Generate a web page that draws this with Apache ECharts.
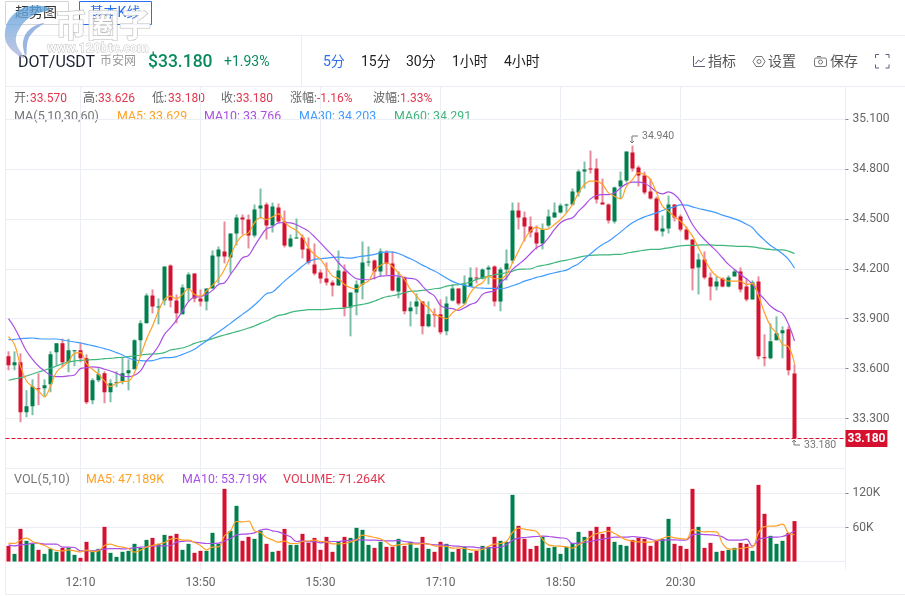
<!DOCTYPE html>
<html>
<head>
<meta charset="utf-8">
<style>
  html, body { margin: 0; padding: 0; background: #fff; }
  #chart { width: 905px; height: 596px; }
</style>
<script src="https://cdn.jsdelivr.net/npm/echarts@6/dist/echarts.min.js"></script>
</head>
<body>
<div id="chart"></div>
<script>
// 5分钟K线 DOT/USDT, values
const opens = [33.674,33.620,33.638,33.338,33.374,33.482,33.482,33.506,33.698,33.752,33.638,33.704,33.710,33.662,33.410,33.530,33.572,33.458,33.512,33.524,33.572,33.596,33.770,33.872,34.040,33.968,34.010,34.220,34.010,33.926,34.082,34.172,34.022,34.004,34.082,34.274,34.304,34.268,34.412,34.508,34.496,34.400,34.562,34.586,
  34.460,34.568,34.484,34.334,34.382,34.388,34.322,34.226,34.178,34.142,34.118,34.100,34.184,33.968,34.058,34.106,34.238,34.250,34.184,34.298,34.232,34.064,34.148,33.944,33.974,34.004,33.854,33.926,33.926,33.824,34.010,34.082,33.992,34.094,34.148,34.142,34.196,34.214,34.004,34.196,34.250,34.550,34.508,34.454,34.418,
  34.352,34.460,34.508,34.538,34.580,34.586,34.658,34.784,34.802,34.802,34.598,34.586,34.484,34.694,34.730,34.898,34.808,34.760,34.664,34.622,34.424,34.442,34.586,34.514,34.436,34.376,34.208,34.256,34.148,34.094,34.142,34.094,34.154,34.184,34.094,34.016,34.124,33.668,33.662,33.770,33.812,33.836,33.570];
const closes = [33.620,33.638,33.338,33.374,33.492,33.476,33.500,33.686,33.752,33.638,33.710,33.710,33.662,33.398,33.530,33.566,33.458,33.512,33.518,33.572,33.590,33.770,33.872,34.040,33.974,33.974,34.214,34.010,33.932,34.088,34.166,34.022,34.004,34.082,34.280,34.316,34.274,34.412,34.508,34.496,34.400,34.556,34.580,34.460,
  34.574,34.484,34.340,34.382,34.388,34.316,34.238,34.172,34.142,34.118,34.100,34.190,33.968,34.058,34.106,34.238,34.244,34.184,34.304,34.232,34.070,34.148,33.944,33.968,34.004,33.854,33.926,33.920,33.818,33.992,34.082,33.992,34.106,34.148,34.142,34.196,34.208,34.004,34.196,34.232,34.550,34.508,34.454,34.418,34.352,
  34.436,34.514,34.538,34.580,34.586,34.664,34.784,34.796,34.796,34.616,34.586,34.490,34.688,34.730,34.904,34.802,34.760,34.658,34.622,34.430,34.442,34.586,34.508,34.436,34.376,34.202,34.256,34.148,34.094,34.124,34.094,34.148,34.184,34.076,34.016,34.118,33.674,33.662,33.764,33.812,33.830,33.590,33.180];
const lows = [33.590,33.590,33.278,33.308,33.320,33.380,33.428,33.458,33.616,33.608,33.578,33.614,33.638,33.386,33.386,33.518,33.392,33.398,33.488,33.506,33.470,33.596,33.686,33.872,33.932,33.866,33.980,33.968,33.872,33.926,34.004,33.998,33.974,33.950,34.082,34.112,34.232,34.172,34.340,34.406,34.322,34.388,34.502,34.376,
  34.418,34.472,34.328,34.328,34.382,34.262,34.226,34.160,34.112,34.100,34.034,34.100,33.914,33.794,33.920,34.016,34.214,34.136,34.154,34.160,34.064,34.022,33.926,33.854,33.926,33.806,33.848,33.848,33.806,33.800,34.004,33.980,33.986,34.094,34.112,34.136,34.106,33.974,33.944,34.130,34.232,34.436,34.364,34.388,34.316,
  34.316,34.448,34.508,34.532,34.538,34.580,34.634,34.682,34.772,34.592,34.586,34.472,34.472,34.622,34.718,34.784,34.694,34.646,34.616,34.424,34.394,34.412,34.484,34.424,34.370,34.070,34.046,34.136,34.010,34.070,34.088,34.088,34.154,34.058,34.004,34.016,33.656,33.614,33.656,33.770,33.662,33.560,33.180];
const highs = [33.704,33.704,33.692,33.470,33.536,33.572,33.536,33.704,33.752,33.780,33.780,33.710,33.758,33.686,33.542,33.602,33.584,33.536,33.584,33.668,33.656,33.776,33.890,34.052,34.076,34.022,34.214,34.226,34.046,34.106,34.178,34.172,34.076,34.082,34.310,34.334,34.484,34.412,34.526,34.526,34.526,34.586,34.682,34.598,
  34.598,34.592,34.550,34.406,34.502,34.406,34.388,34.352,34.196,34.238,34.130,34.310,34.226,34.058,34.130,34.364,34.334,34.256,34.322,34.310,34.304,34.184,34.154,34.004,34.052,34.004,34.004,33.962,34.016,34.034,34.106,34.082,34.160,34.208,34.208,34.202,34.220,34.220,34.208,34.316,34.598,34.598,34.544,34.514,34.460,
  34.472,34.556,34.598,34.592,34.592,34.682,34.796,34.844,34.910,34.862,34.742,34.592,34.694,34.784,34.904,34.940,34.820,34.784,34.742,34.634,34.520,34.640,34.586,34.526,34.454,34.376,34.292,34.304,34.178,34.154,34.148,34.160,34.196,34.208,34.142,34.130,34.154,33.806,33.872,33.914,33.854,33.854,33.626];

const ma5 = [33.792,33.746,33.616,33.526,33.492,33.466,33.432,33.496,33.580,33.612,33.642,33.692,33.696,33.630,33.596,33.566,33.526,33.492,33.512,33.522,33.526,33.576,33.676,33.776,33.856,33.946,34.016,34.036,34.020,34.046,34.080,34.046,34.036,34.066,34.100,34.140,34.196,34.276,34.356,34.400,34.416,34.476,34.508,34.496,
  34.512,34.530,34.480,34.450,34.430,34.392,34.326,34.286,34.256,34.206,34.156,34.142,34.106,34.086,34.080,34.110,34.126,34.192,34.220,34.236,34.212,34.176,34.136,34.076,34.036,33.996,33.966,33.926,33.912,33.900,33.936,33.960,33.986,34.056,34.096,34.116,34.156,34.140,34.140,34.166,34.236,34.306,34.376,34.426,34.450,
  34.436,34.440,34.466,34.496,34.536,34.586,34.656,34.706,34.726,34.726,34.706,34.656,34.636,34.620,34.696,34.736,34.776,34.766,34.736,34.656,34.576,34.546,34.512,34.486,34.446,34.396,34.326,34.256,34.196,34.156,34.140,34.126,34.126,34.126,34.106,34.112,34.036,33.936,33.856,33.812,33.746,33.732,33.629];
const ma10 = [33.900,33.846,33.776,33.706,33.656,33.616,33.586,33.560,33.552,33.552,33.556,33.562,33.600,33.606,33.610,33.608,33.596,33.586,33.572,33.556,33.552,33.560,33.586,33.646,33.686,33.736,33.806,33.846,33.892,33.946,34.002,34.030,34.032,34.046,34.070,34.106,34.116,34.166,34.216,34.266,34.280,34.336,34.392,34.440,
  34.452,34.476,34.478,34.476,34.464,34.446,34.426,34.392,34.356,34.316,34.280,34.236,34.200,34.166,34.140,34.136,34.134,34.144,34.156,34.158,34.160,34.156,34.146,34.142,34.134,34.096,34.060,34.036,33.980,33.964,33.960,33.950,33.966,33.986,34.000,34.046,34.060,34.066,34.116,34.146,34.196,34.226,34.256,34.292,34.326,
  34.346,34.386,34.436,34.476,34.496,34.506,34.546,34.580,34.620,34.640,34.646,34.646,34.656,34.686,34.710,34.720,34.720,34.712,34.692,34.662,34.650,34.662,34.646,34.606,34.536,34.466,34.416,34.376,34.340,34.306,34.266,34.226,34.196,34.166,34.140,34.106,34.056,34.016,33.976,33.950,33.932,33.866,33.766];
const ma30 = [33.774,33.776,33.780,33.782,33.784,33.780,33.778,33.778,33.778,33.772,33.766,33.760,33.754,33.746,33.738,33.730,33.720,33.710,33.696,33.682,33.664,33.652,33.648,33.646,33.648,33.658,33.666,33.666,33.672,33.686,33.700,33.716,33.742,33.766,33.796,33.820,33.846,33.872,33.900,33.926,33.952,33.982,34.016,34.050,
  34.060,34.092,34.126,34.156,34.186,34.216,34.242,34.256,34.260,34.264,34.268,34.270,34.266,34.264,34.270,34.276,34.280,34.286,34.296,34.302,34.300,34.292,34.276,34.260,34.242,34.222,34.204,34.186,34.166,34.144,34.124,34.110,34.100,34.092,34.086,34.084,34.082,34.082,34.080,34.086,34.098,34.110,34.126,34.136,34.148,
  34.156,34.168,34.176,34.184,34.192,34.212,34.230,34.260,34.290,34.320,34.346,34.366,34.392,34.420,34.450,34.476,34.496,34.512,34.524,34.536,34.550,34.562,34.572,34.584,34.582,34.572,34.562,34.554,34.546,34.536,34.522,34.512,34.500,34.486,34.468,34.446,34.406,34.372,34.340,34.316,34.290,34.256,34.203];
const ma60 = [33.530,33.538,33.546,33.556,33.568,33.580,33.590,33.602,33.616,33.630,33.640,33.646,33.650,33.652,33.654,33.656,33.660,33.662,33.666,33.668,33.672,33.676,33.682,33.686,33.688,33.690,33.696,33.712,33.718,33.724,33.736,33.752,33.762,33.770,33.780,33.792,33.802,33.812,33.822,33.832,33.844,33.856,33.872,33.886,
  33.904,33.920,33.926,33.938,33.946,33.950,33.954,33.954,33.954,33.956,33.960,33.962,33.964,33.972,33.980,33.986,33.994,34.006,34.020,34.032,34.038,34.046,34.056,34.064,34.066,34.070,34.074,34.080,34.084,34.096,34.102,34.104,34.112,34.120,34.136,34.146,34.156,34.164,34.170,34.176,34.186,34.196,34.198,34.200,34.212,
  34.220,34.226,34.236,34.246,34.252,34.260,34.268,34.276,34.280,34.282,34.284,34.284,34.286,34.286,34.294,34.300,34.306,34.312,34.316,34.316,34.320,34.326,34.332,34.338,34.340,34.340,34.342,34.344,34.344,34.340,34.340,34.338,34.336,34.334,34.334,34.332,34.326,34.320,34.316,34.314,34.314,34.306,34.291];

// 成交量, in K
const volumes = [27.6,13.5,57.6,36.5,31.8,20.6,13.5,22.3,17.1,24.1,24.1,11.8,6.5,34.7,18.8,22.3,61.2,15.3,8.2,17.1,18.8,31.2,24.1,38.2,41.7,31.2,47.0,45.3,48.8,20.6,31.2,15.3,18.8,18.8,50.6,31.2,128.2,54.1,98.2,36.5,43.5,40.0,54.1,31.2,17.1,18.8,57.6,29.4,29.4,
  48.8,32.9,41.7,20.6,43.5,17.1,34.7,43.5,41.7,59.4,55.9,29.4,24.1,34.7,25.9,25.9,40.0,27.6,34.7,24.1,43.5,22.3,17.1,34.7,31.2,17.1,22.3,25.9,15.3,18.8,27.6,25.9,43.5,36.5,34.7,117.6,62.9,40.0,22.3,27.6,43.5,24.1,25.9,13.5,25.9,32.9,52.3,43.5,54.1,61.2,
  48.8,61.2,34.7,29.4,27.6,38.2,41.7,40.0,27.6,38.2,40.0,75.3,31.2,27.6,22.3,128.2,61.2,24.1,32.9,17.1,18.8,20.6,24.1,32.9,31.2,18.8,135.2,84.1,45.3,31.2,36.5,50.6,71.264];
const volMa5 = [32.3,31.8,37.6,41.2,35.3,31.8,28.2,22.9,19.4,18.8,20.6,18.8,17.1,20.0,17.6,18.8,28.2,30.6,27.0,25.3,22.9,16.5,20.0,25.3,28.2,30.6,33.5,39.4,40.6,37.6,37.6,33.5,28.2,20.6,25.3,25.9,45.3,54.1,70.6,70.0,71.1,54.1,51.2,42.3,38.2,34.1,35.9,31.8,31.8,
  35.3,36.5,37.6,35.3,34.7,31.2,31.2,31.8,34.7,38.2,46.5,44.7,42.3,40.0,34.1,27.6,29.4,30.6,31.2,30.6,31.8,30.6,27.6,27.0,26.5,23.5,24.1,22.9,20.6,20.0,21.2,27.0,30.6,31.8,35.3,51.2,58.8,57.0,55.3,52.9,39.4,29.4,27.6,27.0,25.9,23.5,29.4,36.5,43.5,49.4,
  51.7,53.5,49.4,43.5,38.2,35.9,34.7,34.1,34.1,37.0,40.6,44.1,41.7,40.6,39.4,56.4,54.1,52.3,52.9,52.3,31.8,22.3,21.8,22.9,24.7,25.3,50.6,61.7,62.3,62.9,65.9,50.0,47.189];
const volMa10 = [29.4,27.6,29.4,30.0,32.3,32.3,30.6,30.6,30.6,25.3,25.3,24.7,18.8,18.8,18.8,20.6,21.8,22.9,22.9,22.3,22.9,24.1,25.3,25.9,27.0,27.6,27.6,28.2,34.1,35.3,36.5,34.1,32.9,31.8,31.8,32.3,36.5,40.6,47.0,48.2,48.8,50.6,55.3,57.0,54.1,52.3,48.2,43.5,35.3,
  36.5,34.7,35.3,32.9,34.7,35.3,35.3,36.5,37.0,38.2,38.2,37.6,37.6,37.0,36.5,36.5,37.0,35.3,34.1,32.3,32.3,30.6,29.4,29.4,28.8,27.6,27.0,25.9,25.9,24.7,24.1,24.1,24.7,25.3,29.4,37.6,41.2,42.3,43.5,44.1,44.7,44.1,42.9,41.7,40.6,31.8,32.3,33.5,35.3,37.6,
  39.4,41.2,42.9,42.9,42.9,44.1,42.9,42.3,39.4,37.0,37.6,38.2,38.2,37.6,38.2,47.0,48.2,47.6,47.0,45.9,43.5,37.6,37.6,37.6,39.4,27.0,38.8,41.7,42.9,42.9,44.1,48.2,53.719];

const priceTicks = [33.3, 33.6, 33.9, 34.2, 34.5, 34.8, 35.1];
const volTicks = [60, 120];
const timeTicks = ['12:10', '13:50', '15:30', '17:10', '18:50', '20:30'];
const lastPrice = 33.18;

// 140 slots on the x axis, the candles stop at slot 131
const times = [];
for (let i = 0; i < 140; i++) {
  const m = 11 * 60 + 10 + i * 5;
  times.push(String(Math.floor(m / 60) % 24).padStart(2, '0') + ':' + String(m % 60).padStart(2, '0'));
}

const RED = '#d6112f', GREEN = '#00804f';
const RED_WICK = '#e98a9a', GREEN_WICK = '#7dbea6';
const ORANGE = '#ffa126', PURPLE = '#a94fe6', BLUE = '#3f9bff', MAGREEN = '#3fb67c';
const LINE = '#eceef5';
const FONT = 'Roboto, "Noto Sans CJK SC", sans-serif';

const isDown = i => closes[i] < opens[i];
const isTick = (i, v) => timeTicks.indexOf(v) >= 0;

function txt(text, x, y, fill, size, weight, align) {
  return {
    type: 'text', x: x, y: y, silent: true,
    style: { text: text, fill: fill, fontSize: size || 12, fontWeight: weight || 'normal',
      fontFamily: FONT, align: align || 'left', verticalAlign: 'middle' }
  };
}
function hv(x1, y1, x2, y2, color) {
  return { type: 'line', silent: true, shape: { x1: x1, y1: y1, x2: x2, y2: y2 },
    style: { stroke: color || LINE, lineWidth: 1 } };
}
function poly(points, color, width) {
  return { type: 'polyline', silent: true, shape: { points: points },
    style: { stroke: color, lineWidth: width || 1, fill: null } };
}

const ICON = '#5b6078';
const chrome = [
  // 外框
  hv(5.5, 35.5, 905, 35.5), hv(5.5, 86.5, 905, 86.5), hv(5.5, 594.5, 905, 594.5),
  hv(5.5, 35.5, 5.5, 594.5), hv(301.5, 35.5, 301.5, 86.5), hv(845.5, 86.5, 845.5, 569.5),
  hv(5.5, 468.5, 845.5, 468.5),
  // 顶部按钮
  { type: 'rect', silent: true, shape: { x: 5.5, y: 1.5, width: 63, height: 23 }, style: { fill: '#fff', stroke: '#d5d5d5', lineWidth: 1 } },
  txt('超势图', 36, 13, '#333', 14, 'normal', 'center'),
  { type: 'rect', silent: true, shape: { x: 79.5, y: 1.5, width: 72, height: 23 }, style: { fill: '#fff', stroke: '#2a6ff0', lineWidth: 1 } },
  txt('基本K线', 115, 13, '#2a6ff0', 14, 'normal', 'center'),
  // 标题行
  txt('DOT/USDT', 18, 62.5, '#1d2233', 16),
  txt('币安网', 100, 62, '#999', 12),
  txt('$33.180', 148, 63, '#0b8a5f', 17.5, 500),
  txt('+1.93%', 224, 62.5, '#0b8a5f', 14),
  txt('5分', 323, 62, '#2a6ff0', 14),
  txt('15分', 361, 62, '#222', 14),
  txt('30分', 406, 62, '#222', 14),
  txt('1小时', 452, 62, '#222', 14),
  txt('4小时', 504, 62, '#222', 14),
  txt('指标', 708, 62, '#555', 14),
  txt('设置', 768, 62, '#555', 14),
  txt('保存', 830, 62, '#555', 14),
  // 指标 icon
  poly([[693.5, 56], [693.5, 66.5], [705, 66.5]], ICON),
  poly([[695.5, 64], [698.5, 60], [701, 62], [704.5, 58]], ICON),
  // 设置 icon
  poly([[756, 56.5], [762, 56.5], [765, 61.5], [762, 66.5], [756, 66.5], [753, 61.5], [756, 56.5]], '#777'),
  { type: 'circle', silent: true, shape: { cx: 759, cy: 61.5, r: 2 }, style: { stroke: '#777', fill: null, lineWidth: 1 } },
  // 保存 icon
  { type: 'rect', silent: true, shape: { x: 814.5, y: 58, width: 12, height: 8.5, r: 1.5 }, style: { stroke: '#777', fill: null, lineWidth: 1 } },
  hv(817, 56.5, 821, 56.5, '#777'),
  { type: 'circle', silent: true, shape: { cx: 820.5, cy: 62, r: 2 }, style: { stroke: '#777', fill: null, lineWidth: 1 } },
  // 全屏 icon
  poly([[875.5, 58], [875.5, 54.5], [879, 54.5]], ICON), poly([[885.5, 54.5], [889, 54.5], [889, 58]], ICON),
  poly([[875.5, 64.5], [875.5, 68], [879, 68]], ICON), poly([[885.5, 68], [889, 68], [889, 64.5]], ICON),
  // K线信息
  txt('开:', 14, 98.5, '#666'), txt('33.570', 30, 98.5, '#e0374f'),
  txt('高:', 83, 98.5, '#666'), txt('33.626', 98, 98.5, '#e0374f'),
  txt('低:', 152, 98.5, '#666'), txt('33.180', 168, 98.5, '#e0374f'),
  txt('收:', 221, 98.5, '#666'), txt('33.180', 236, 98.5, '#e0374f'),
  txt('涨幅:', 290, 98.5, '#666'), txt('-1.16%', 317, 98.5, '#e0374f'),
  txt('波幅:', 373, 98.5, '#666'), txt('1.33%', 400, 98.5, '#e0374f'),
  txt('MA(5,10,30,60)', 14, 116.5, '#777', 12.6),
  txt('MA5: 33.629', 117, 116.5, ORANGE, 12.4),
  txt('MA10: 33.766', 204, 116.5, PURPLE, 12.4),
  txt('MA30: 34.203', 299, 116.5, BLUE, 12.4),
  txt('MA60: 34.291', 394, 116.5, MAGREEN, 12.4),
  txt('VOL(5,10)', 14, 480, '#777', 12.6),
  txt('MA5: 47.189K', 86, 480, ORANGE, 12.4),
  txt('MA10: 53.719K', 182, 480, PURPLE, 12.4),
  txt('VOLUME: 71.264K', 283, 480, '#e0374f', 12.6),
  // 水印
  { type: 'polygon', silent: true, z: 50, shape: { points: [[50, 9], [30, 6], [12, 16], [5, 32], [9, 47], [24, 58], [16, 42], [20, 28], [32, 16]], smooth: 0.4 },
    style: { fill: { type: 'linear', x: 0, y: 0, x2: 0, y2: 1, colorStops: [{ offset: 0, color: '#5aa3dc' }, { offset: 1, color: '#b4b8dc' }] }, opacity: 0.8 } },
  { type: 'polygon', silent: true, z: 50, shape: { points: [[44, 23], [30, 29], [23, 42], [26, 56], [28, 40], [34, 31]], smooth: 0.4 },
    style: { fill: '#7fa4dc', opacity: 0.8 } },
  { type: 'text', silent: true, z: 51, x: 55, y: 25, style: { text: '币圈子', fontSize: 32, fontWeight: 'bold', fontFamily: '"Noto Sans CJK SC"',
      fill: 'rgba(255,255,255,0.9)', stroke: '#bdbdbd', lineWidth: 1.2, verticalAlign: 'middle' } },
  { type: 'text', silent: true, z: 51, x: 47, y: 49, style: { text: 'www.120btc.com', fontSize: 13, fontWeight: 'bold', fontFamily: FONT,
      fill: 'rgba(255,255,255,0.9)', stroke: '#bdbdbd', lineWidth: 0.8, verticalAlign: 'middle' } }
];

const lineSeries = (name, data, color, xi) => ({
  name: name, type: 'line', data: data, xAxisIndex: xi, yAxisIndex: xi, showSymbol: false,
  smooth: 0.4, silent: true, lineStyle: { color: color, width: 1.2 }, z: 5
});

const option = {
  animation: false,
  backgroundColor: '#fff',
  textStyle: { fontFamily: FONT },
  graphic: { elements: chrome },
  grid: [
    { left: 5.5, right: 59.5, top: 86.5, height: 382 },
    { left: 5.5, right: 59.5, top: 468.5, height: 101 }
  ],
  xAxis: [
    { type: 'category', gridIndex: 0, data: times, axisLine: { show: false }, axisTick: { show: false }, axisLabel: { show: false },
      splitLine: { show: true, interval: isTick, alignWithLabel: true, lineStyle: { color: LINE } } },
    { type: 'category', gridIndex: 1, data: times,
      axisLine: { lineStyle: { color: LINE } },
      axisTick: { interval: isTick, alignWithLabel: true, length: 3, lineStyle: { color: '#888' } },
      axisLabel: { interval: isTick, color: '#666', fontSize: 12, margin: 7 },
      splitLine: { show: true, interval: isTick, alignWithLabel: true, lineStyle: { color: LINE } } }
  ],
  yAxis: [
    { type: 'value', gridIndex: 0, position: 'right', min: 33.0, max: 35.295, scale: true,
      axisLine: { show: false },
      axisTick: { show: true, length: 3, customValues: priceTicks, lineStyle: { color: '#888' } },
      axisLabel: { color: '#666', fontSize: 12, margin: 7, customValues: priceTicks, formatter: v => v.toFixed(3) },
      splitLine: { lineStyle: { color: LINE } } },
    { type: 'value', gridIndex: 1, position: 'right', min: -14.1, max: 164.1,
      axisLine: { show: false },
      axisTick: { show: true, length: 3, customValues: volTicks, lineStyle: { color: '#888' } },
      axisLabel: { color: '#666', fontSize: 12, margin: 7, customValues: volTicks, formatter: v => v + 'K' },
      splitLine: { lineStyle: { color: LINE } } }
  ],
  series: [
    {
      // 影线比实体浅, 单独画
      name: 'wick', type: 'custom', xAxisIndex: 0, yAxisIndex: 0, silent: true, z: 3,
      data: lows.map((l, i) => [i, l, highs[i]]),
      encode: { x: 0, y: [1, 2] },
      renderItem: function (params, api) {
        const i = api.value(0);
        const top = api.coord([i, api.value(2)]);
        const bot = api.coord([i, api.value(1)]);
        return { type: 'rect', shape: { x: top[0] - 1, y: top[1], width: 2, height: bot[1] - top[1] },
          style: { fill: isDown(i) ? RED_WICK : GREEN_WICK } };
      }
    },
    {
      name: 'K', type: 'candlestick', xAxisIndex: 0, yAxisIndex: 0, silent: true, barWidth: 4, z: 4,
      data: opens.map((o, i) => [o, closes[i], lows[i], highs[i]]),
      itemStyle: { color: GREEN, color0: RED, borderWidth: 0 },
      markLine: {
        silent: true, symbol: 'none',
        lineStyle: { color: RED, type: 'dashed', width: 1 },
        label: { position: 'end', distance: 0, color: '#fff', fontWeight: 'bold', fontSize: 12,
          backgroundColor: RED, padding: [3, 2, 2, 2], formatter: p => p.value.toFixed(3) },
        data: [{ yAxis: lastPrice }]
      }
    },
    lineSeries('MA60', ma60, MAGREEN, 0),
    lineSeries('MA30', ma30, BLUE, 0),
    lineSeries('MA10', ma10, PURPLE, 0),
    lineSeries('MA5', ma5, ORANGE, 0),
    {
      // 最高/最低价标注
      name: 'extreme', type: 'custom', xAxisIndex: 0, yAxisIndex: 0, silent: true, z: 6,
      data: [[104, 34.94, -1], [131, lastPrice, 1]],
      encode: { x: 0, y: 1 },
      renderItem: function (params, api) {
        const p = api.coord([api.value(0), api.value(1)]);
        const dir = api.value(2);
        const x = p[0] - 0.5, y = Math.round(p[1]);
        const yEnd = dir < 0 ? y - 10 : y + 6;
        return { type: 'group', children: [
          { type: 'polyline', shape: { points: [[x, dir < 0 ? y - 3 : y + 1], [x, yEnd], [x + 6, yEnd]] }, style: { stroke: '#777', fill: null, lineWidth: 1 } },
          { type: 'polyline', shape: { points: [[x - 2, y + (dir < 0 ? -5 : 3)], [x, y + (dir < 0 ? -3 : 1)], [x + 2, y + (dir < 0 ? -5 : 3)]] }, style: { stroke: '#777', fill: null, lineWidth: 1 } },
          { type: 'text', x: x + 10, y: yEnd, style: { text: api.value(1).toFixed(3), fill: '#777', fontSize: 10.5, fontFamily: FONT, verticalAlign: 'middle' } }
        ] };
      }
    },
    {
      name: 'VOL', type: 'bar', xAxisIndex: 1, yAxisIndex: 1, barWidth: 4, silent: true, z: 3,
      data: volumes.map((v, i) => ({ value: v, itemStyle: { color: isDown(i) ? RED : GREEN } }))
    },
    lineSeries('VOLMA10', volMa10, PURPLE, 1),
    lineSeries('VOLMA5', volMa5, ORANGE, 1)
  ]
};

const chart = echarts.init(document.getElementById('chart'));
chart.setOption(option);
</script>
</body>
</html>
